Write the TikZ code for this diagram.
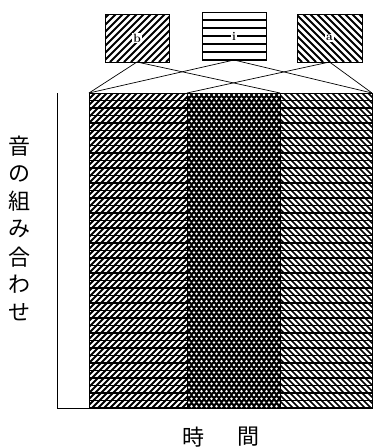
\documentclass[tikz,border=0pt]{standalone}
\usepackage{fontspec}
\newfontfamily\cjk{Noto Sans CJK JP}
\begin{document}
\begin{tikzpicture}[x=1pt,y=-1pt,
  region/.style={draw=black,line width=0.8pt,minimum height=315pt,inner sep=0pt,outer sep=0pt},
  soundbox/.style={draw=black,line width=0.9pt,minimum width=64pt,minimum height=48pt,inner sep=0pt,outer sep=0pt},
  lbl/.style={font=\bfseries\fontsize{12}{12}\selectfont,fill=white,inner sep=0.8pt,text=black},
  link/.style={line width=0.7pt},
  axis/.style={line width=0.9pt},
  hatch/.style={line width=2.1pt},
  rowline/.style={line width=1.8pt},
  jp/.style={font=\cjk\fontsize{22}{22}\selectfont,inner sep=0pt}]
\useasboundingbox (0,0) rectangle (375,448);
% --- pattern of the left region
\begin{scope}
\clip (89,93) rectangle (187,408);
\foreach \x in {-232,-226,...,190} {\draw[hatch] (\x,408) -- (\x+315,93);}
\foreach \y in {93,100.5,...,408} {\draw[rowline] (89,\y) -- (187,\y);}
\end{scope}
% --- pattern of the middle region
\begin{scope}
\clip (187,93) rectangle (280,408);
\fill[black] (187,93) rectangle (280,408);
\foreach \j in {0,...,84} {
  \pgfmathsetmacro{\yy}{95+\j*3.75}
  \pgfmathsetmacro{\off}{mod(\j,2)*2.5}
  \foreach \i in {0,...,19} {\fill[white] (189+\off+\i*5,\yy) circle (1.3);}
}
\end{scope}
% --- pattern of the right region
\begin{scope}
\clip (280,93) rectangle (372,408);
\foreach \x in {-40,-34,...,380} {\draw[line width=1.6pt] (\x,93) -- (\x+315,408);}
\foreach \y in {93,100.5,...,408} {\draw[line width=1.4pt] (280,\y) -- (372,\y);}
\end{scope}
\node[region,minimum width=98pt] (L) at (138,250.5) {};
\node[region,minimum width=93pt] (M) at (233.5,250.5) {};
\node[region,minimum width=92pt] (R) at (326,250.5) {};
% --- top boxes
\begin{scope}
\clip (105,14) rectangle (169,62);
\foreach \x in {40,47,...,180} {\draw[line width=1.8pt] (\x,62) -- (\x+48,14);}
\end{scope}
\begin{scope}
\clip (202,12) rectangle (266,60);
\foreach \y in {12,20,...,60} {\draw[line width=1.6pt] (202,\y) -- (266,\y);}
\end{scope}
\begin{scope}
\clip (297,14) rectangle (362,62);
\foreach \x in {240,247,...,370} {\draw[line width=1.8pt] (\x,14) -- (\x+48,62);}
\end{scope}
\node[soundbox] (B) at (137,38) {};
\node[soundbox] (I) at (234,36) {};
\node[soundbox,minimum width=65pt] (N) at (329.5,38) {};
\node[lbl] (bl) at (B.center) {b};
\node[lbl] (il) at (I.center) {i};
\node[lbl] (nl) at (N.center) {a};
% --- connectors
\draw[link] (B.south) -- (L.north west);
\draw[link] (B.south) -- (M.north east);
\draw[link] (I.south) -- (L.north west);
\draw[link] (I.south) -- (R.north east);
\draw[link] (N.south) -- (M.north west);
\draw[link] (N.south) -- (R.north east);
% --- axes
\coordinate (ytop) at (57,93);
\coordinate (origin) at (57,408);
\draw[axis] (ytop) -- (origin) -- (R.south east);
% --- labels
\node[jp] (v1) at (20,146) {音};
\node[jp] (v2) at (20,173.7) {の};
\node[jp] (v3) at (20,201.3) {組};
\node[jp] (v4) at (20,229) {み};
\node[jp] (v5) at (20,256.7) {合};
\node[jp] (v6) at (20,284.3) {わ};
\node[jp] (v7) at (20,312) {せ};
\node[jp] (t1) at (193,437) {時};
\node[jp] (t2) at (248,437) {間};
\end{tikzpicture}
\end{document}
